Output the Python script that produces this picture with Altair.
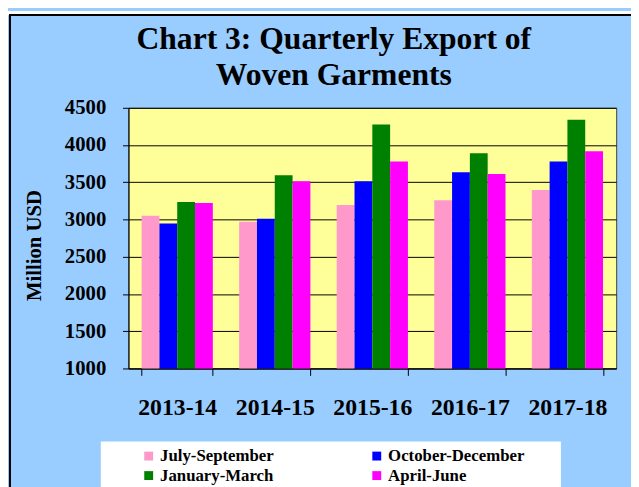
import altair as alt
import pandas as pd

years = ["2013-14", "2014-15", "2015-16", "2016-17", "2017-18"]
quarters = ["July-September", "October-December", "January-March", "April-June"]
jul_sep = [3050, 2970, 3195, 3260, 3395]
oct_dec = [2945, 3010, 3515, 3635, 3780]
jan_mar = [3235, 3595, 4275, 3890, 4340]
apr_jun = [3220, 3515, 3780, 3610, 3915]
y_ticks = [1000, 1500, 2000, 2500, 3000, 3500, 4000, 4500]
colors = ["#FF99CC", "#0000FF", "#008000", "#FF00FF"]
title_text = "Chart 3: Quarterly Export of\nWoven Garments"

rows = []
for q, vals in zip(quarters, [jul_sep, oct_dec, jan_mar, apr_jun]):
    for yr, v in zip(years, vals):
        rows.append({"year": yr, "quarter": q, "value": v})
df = pd.DataFrame(rows)

W, H = 494, 264
FONT = "Liberation Serif"
one = alt.Data(values=[{}])

top_white = alt.Chart(one).mark_rect(color="white").encode(
    x=alt.value(-122), x2=alt.value(W + 15), y=alt.value(-98), y2=alt.value(-94)
)
frame = alt.Chart(one).mark_rect(filled=False, stroke="black", strokeWidth=2).encode(
    x=alt.value(-120), x2=alt.value(W + 60), y=alt.value(-94), y2=alt.value(H + 160)
)
legend_box = alt.Chart(one).mark_rect(color="white").encode(
    x=alt.value(-28), x2=alt.value(438), y=alt.value(338), y2=alt.value(H + 130)
)
title = alt.Chart(one).mark_text(
    font=FONT, fontSize=32, fontWeight="bold", color="black",
    align="center", baseline="alphabetic", lineBreak="\n", lineHeight=37,
).encode(x=alt.value(208), y=alt.value(-60), text=alt.value(title_text))

bars = alt.Chart(df).mark_bar().encode(
    x=alt.X(
        "year:N", sort=years, title=None,
        scale=alt.Scale(paddingInner=0.27, paddingOuter=0.135),
        axis=alt.Axis(
            tickBand="extent", labelAngle=0, labelFont=FONT, labelFontSize=24,
            labelFontWeight="bold", labelColor="black", labelPadding=21,
            tickSize=7, tickColor="black", domainColor="black", grid=False,
        ),
    ),
    xOffset=alt.XOffset("quarter:N", sort=quarters,
                        scale=alt.Scale(paddingInner=0, paddingOuter=0)),
    y=alt.Y(
        "value:Q", title="Million USD",
        scale=alt.Scale(domain=[1000, 4500], zero=False, nice=False),
        axis=alt.Axis(
            values=y_ticks, format="d", labelFont=FONT, labelFontSize=21,
            labelFontWeight="bold", labelColor="black", labelPadding=17,
            tickSize=6, tickColor="black",
            domainColor="black", gridColor="black", gridOpacity=1,
            titleFont=FONT, titleFontSize=21, titleFontWeight="bold",
            titleColor="black", titlePadding=20, titleY=139,
        ),
    ),
    y2=alt.datum(1000),
    color=alt.Color(
        "quarter:N", sort=quarters,
        scale=alt.Scale(domain=quarters, range=colors),
        legend=alt.Legend(
            title=None, orient="none", legendX=12, legendY=344, columns=2,
            direction="horizontal",
            columnPadding=95, rowPadding=2, symbolType="square", symbolSize=81,
            symbolStrokeWidth=0, symbolOffset=0, padding=0, labelOffset=3,
            labelFont=FONT, labelFontSize=17, labelFontWeight="bold",
            labelColor="black", zindex=1,
        ),
    ),
)

chart = alt.layer(top_white, frame, legend_box, title, bars).properties(
    width=W, height=H,
    autosize=alt.AutoSizeParams(type="none"),
    padding={"left": 122, "top": 98, "right": 15, "bottom": 117},
    background="#99CCFF",
).configure_view(fill="#FFFF99", stroke="#404040", strokeWidth=1)

chart.save("out.html", embed_options={"renderer": "svg", "actions": False})
